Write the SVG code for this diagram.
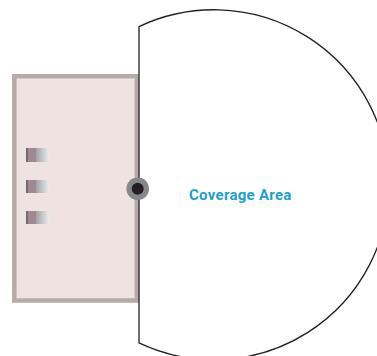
<svg xmlns="http://www.w3.org/2000/svg" width="377" height="356" viewBox="0 0 377 356">
<style>
.win{fill:url(#g)}
.lbl{font-family:"Roboto","Liberation Sans",sans-serif;font-size:15px;font-weight:700;letter-spacing:.28px;fill:#1ba1cf}
</style>
<defs>
<linearGradient id="g" x1="0" x2="1" y1="0" y2="0">
<stop offset="0" stop-color="#6d6d70"/>
<stop offset="0.09" stop-color="#6d6d70"/>
<stop offset="0.1" stop-color="#a38890"/>
<stop offset="0.42" stop-color="#a08890"/>
<stop offset="0.44" stop-color="#a3a3a6"/>
<stop offset="1" stop-color="#e9ebec"/>
</linearGradient>
</defs>
<g id="room">
<rect x="14.300" y="76.200" width="122.500" height="224.300" fill="#efe3e1" stroke="#b6aba8" stroke-width="4.500"/>
<rect class="win" x="26" y="148" width="23" height="14"/>
<rect class="win" x="26" y="180" width="23" height="13"/>
<rect class="win" x="26" y="211" width="23" height="13"/>
</g>
<g id="coverage">
<path d="M139 26.600A175 175 0 1 1 139 342.900L139 26.600Z" fill="none" stroke="#222" stroke-width="1.300"/>
<text class="lbl" x="189" y="200">Coverage Area</text>
</g>
<g id="sensor">
<circle cx="137.700" cy="188.700" r="11.300" fill="#85878a"/>
<circle cx="137.700" cy="188.700" r="6" fill="#231f20"/>
</g>
</svg>
